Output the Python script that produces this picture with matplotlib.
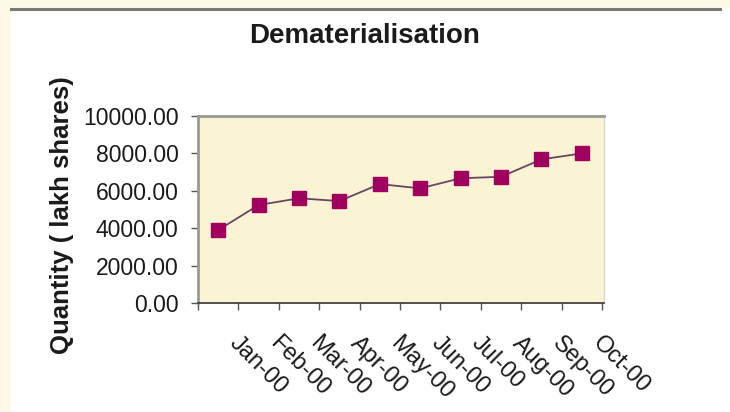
import matplotlib
matplotlib.use("Agg")
import matplotlib.pyplot as plt
from matplotlib.patches import Rectangle
from matplotlib.lines import Line2D
import numpy as np

months = ["Jan-00", "Feb-00", "Mar-00", "Apr-00", "May-00", "Jun-00",
          "Jul-00", "Aug-00", "Sep-00", "Oct-00"]
quantity = [3900, 5240, 5600, 5450, 6360, 6130, 6670, 6750, 7680, 8000]
yticks = [0, 2000, 4000, 6000, 8000, 10000]

plt.rcParams['font.family'] = ['Liberation Sans', 'DejaVu Sans']

W, H = 730, 412
fig = plt.figure(figsize=(W / 100, H / 100), dpi=100)
fig.patch.set_facecolor('white')

cream = '#FCF9E6'
fig.patches.append(Rectangle((0, 0), 11 / W, 1, transform=fig.transFigure,
                             facecolor=cream, edgecolor='none', zorder=0))
fig.patches.append(Rectangle((0, 1 - 8 / H), 1, 8 / H, transform=fig.transFigure,
                             facecolor=cream, edgecolor='none', zorder=0))
fig.lines.append(Line2D([11 / W, 720 / W], [1 - 9 / H, 1 - 9 / H],
                        transform=fig.transFigure, color='#7a7a72', lw=2.2))

ax = fig.add_axes([198 / W, 1 - 303 / H, (604 - 198) / W, (303 - 116) / H])
ax.set_facecolor('#FAF3D4')

x = np.arange(len(months))
ax.plot(x, quantity, color='#6a4560', lw=1.3, marker='s', markersize=9.5,
        markerfacecolor='#A0005E', markeredgecolor='#A0005E', zorder=3)

ax.set_xlim(-0.5, len(months) - 0.5)
ax.set_ylim(0, 10000)
ax.set_yticks(yticks)
ax.set_yticklabels([f"{v:.2f}" for v in yticks], fontsize=16.5, color='#1a1a1a')
ax.tick_params(axis='y', length=5, width=1, color='#555555', pad=9)

ax.set_xticks(np.arange(-0.5, len(months), 1.0))
ax.set_xticklabels([])
ax.tick_params(axis='x', which='major', length=5, width=1, color='#555555')
ax.set_xticks(x + 0.55, minor=True)
ax.set_xticklabels(months, minor=True, rotation=-45, ha='left', va='top',
                   rotation_mode='anchor', fontsize=17, color='#1a1a1a')
ax.tick_params(axis='x', which='minor', length=0, pad=21)

for side in ['top', 'left']:
    ax.spines[side].set_color('#9a9a92')
    ax.spines[side].set_linewidth(2)
ax.spines['right'].set_color('#d8d6cc')
ax.spines['right'].set_linewidth(1)
ax.spines['bottom'].set_color('#333333')
ax.spines['bottom'].set_linewidth(1.2)

ax.set_ylabel('Quantity ( lakh shares)', fontsize=18.5, fontweight='bold',
              color='#1a1a1a')
ax.yaxis.set_label_coords(-0.305, 0.47)

fig.text(365 / W, 1 - 36 / H, 'Dematerialisation', ha='center', va='center',
         fontsize=20, fontweight='bold', color='#1a1a1a')

fig.savefig('out.png', dpi=100)
